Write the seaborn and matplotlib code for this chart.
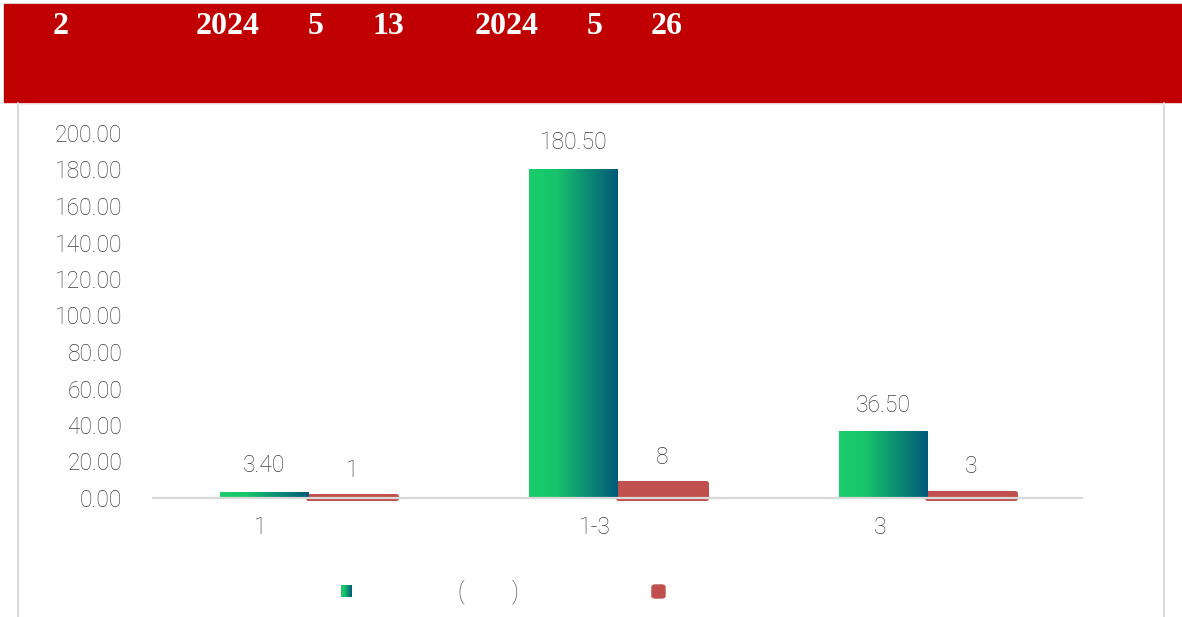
import numpy as np
import pandas as pd
import matplotlib.pyplot as plt
import matplotlib.patches as mpatches
import matplotlib.transforms as mtransforms
from matplotlib.lines import Line2D
from matplotlib.colors import LinearSegmentedColormap
import seaborn as sns

# Data
categories = ["1", "1-3", "3"]
series_names = ["amount", "count"]
amount = [3.40, 180.50, 36.50]
count = [1, 8, 3]
title_parts = ["2", "2024", "5", "13", "2024", "5", "26"]
yticks = list(range(0, 201, 20))

df = pd.DataFrame({
    "category": categories * 2,
    "series": [series_names[0]] * 3 + [series_names[1]] * 3,
    "value": amount + count,
})

sns.set_style("white")
plt.rcParams['font.family'] = ['Roboto', 'DejaVu Sans']
plt.rcParams['font.weight'] = 'light'

W, H = 1182, 617
GREY = "#3F3F3F"
RED = "#C0504D"
FS = 16.5
green_cmap = LinearSegmentedColormap.from_list(
    "green_teal", [(0, "#1ACD6A"), (0.3, "#17C46B"), (0.7, "#0B8574"), (1, "#015A7A")])

fig = plt.figure(figsize=(W / 100, H / 100), dpi=100)

# -------------------
# Header band + panel border
# -------------------
fig.patches.append(mpatches.Rectangle((4 / W, (H - 102) / H), 1178 / W, 98 / H,
                                      transform=fig.transFigure, color="#C00000", zorder=0))
title_x = [61, 228, 316, 388, 507, 595, 667]
for txt, px in zip(title_parts, title_x):
    fig.text(px / W, (H - 27) / H, txt, color="white", fontsize=23, fontweight="bold",
             family="Liberation Serif", ha="center", va="center")

for px in [18, 1164]:
    fig.add_artist(Line2D([px / W, px / W], [0, (H - 103) / H], color="#D9D9D9", lw=1.5))
fig.add_artist(Line2D([18 / W, 1164 / W], [(H - 104) / H] * 2, color="#EEEEEE", lw=0.8))

# -------------------
# Bars
# -------------------
ax = fig.add_axes([153 / W, 119 / H, 929 / W, 365 / H])
sns.barplot(data=df, x="category", y="value", hue="series", palette=["#1ACD6A", RED],
            width=0.57, saturation=1, errorbar=None, legend=False, ax=ax)

grad = np.linspace(0, 1, 256).reshape(1, -1)
for p in ax.containers[0]:
    x, y, w, h = p.get_x(), p.get_y(), p.get_width(), p.get_height()
    p.set_facecolor("none")
    im = ax.imshow(grad, cmap=green_cmap, extent=[x, x + w, y, y + h], aspect="auto", zorder=2)
    im.set_clip_path(p)

for p in ax.containers[1]:
    p.set_edgecolor(RED)
    p.set_linewidth(3.6)
    p.set_joinstyle("round")
    p.set_clip_on(False)

for cont, vals, fmt in [(ax.containers[0], amount, "{:.2f}"), (ax.containers[1], count, "{:d}")]:
    for p, v in zip(cont, vals):
        ax.annotate(fmt.format(v), (p.get_x() + p.get_width() / 2, p.get_height()),
                    xytext=(0, 26), textcoords="offset pixels", ha="center", va="center",
                    fontsize=FS, color=GREY)

ax.set_xlim(-0.5, 2.5)
ax.set_ylim(0, 200)
ax.set_yticks(yticks)
ax.set_yticklabels([f"{v:.2f}" for v in yticks])
ax.set_xlabel("")
ax.set_ylabel("")
ax.tick_params(axis="y", length=0, pad=22, labelsize=FS, labelcolor=GREY)
ax.tick_params(axis="x", length=0, pad=13, labelsize=FS, labelcolor=GREY)
for lbl, dx in zip(ax.get_xticklabels(), [-48, -23, -47]):
    lbl.set_transform(lbl.get_transform() + mtransforms.ScaledTranslation(dx / 100, 0, fig.dpi_scale_trans))

for s in ["left", "right", "top"]:
    ax.spines[s].set_visible(False)
ax.spines["bottom"].set_color("#D9D9D9")
ax.spines["bottom"].set_linewidth(1.6)
ax.spines["bottom"].set_zorder(5)

# -------------------
# Legend
# -------------------
lax = fig.add_axes([341 / W, (H - 597) / H, 11 / W, 12 / H])
lax.imshow(grad, cmap=green_cmap, aspect="auto")
lax.axis("off")
fig.patches.append(mpatches.FancyBboxPatch((652 / W, (H - 598) / H), 13 / W, 13 / H,
                                           boxstyle="round,pad=0,rounding_size=0.003",
                                           transform=fig.transFigure, color=RED))
fig.text(461 / W, (H - 592) / H, "(", fontsize=FS, color=GREY, ha="center", va="center")
fig.text(515 / W, (H - 592) / H, ")", fontsize=FS, color=GREY, ha="center", va="center")

fig.savefig("out.png", dpi=100)
